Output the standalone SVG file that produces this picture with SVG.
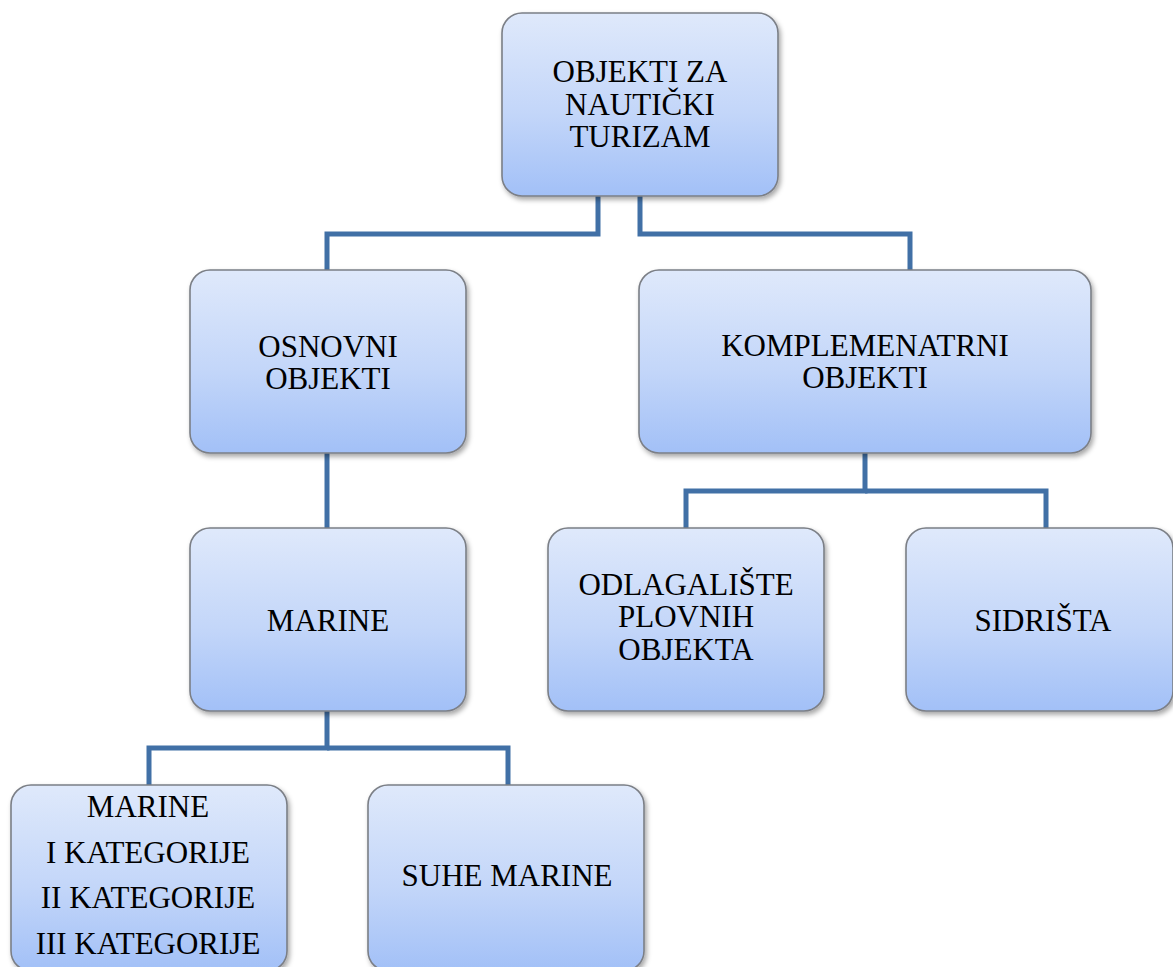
<svg xmlns="http://www.w3.org/2000/svg" width="1173" height="967" viewBox="0 0 1173 967">
<defs>
<linearGradient id="g" x1="0" y1="0" x2="0" y2="1">
<stop offset="0" stop-color="#dfe9fb"/>
<stop offset="0.55" stop-color="#c3d6f9"/>
<stop offset="1" stop-color="#a2c0f7"/>
</linearGradient>
<filter id="sh" x="-10%" y="-10%" width="125%" height="130%">
<feDropShadow dx="2" dy="3" stdDeviation="2.5" flood-color="#000" flood-opacity="0.35"/>
</filter>
</defs>
<style>
.box{fill:url(#g);stroke:#7b7f86;stroke-width:1.6;filter:url(#sh)}
.t{font-family:'Liberation Serif','Times New Roman',serif;font-size:31px;fill:#000;text-anchor:middle}
.c{fill:none;stroke:#4170a6;stroke-width:5;stroke-linejoin:miter}
</style>
<rect width="1173" height="967" fill="#fff"/>
<g id="connectors">
<path class="c" d="M598,196 V234 H327 V270"/>
<path class="c" d="M640,196 V234 H910 V270"/>
<path class="c" d="M327,453 V528"/>
<path class="c" d="M865,453 V491 H686 V528"/>
<path class="c" d="M865,491 H1046 V528"/>
<path class="c" d="M327,711 V748 H149 V785"/>
<path class="c" d="M327,748 H508 V785"/>
</g>
<g id="n-root">
<rect class="box" x="502" y="13" width="276" height="183" rx="20"/>
<text class="t" x="640" y="82">OBJEKTI ZA</text>
<text class="t" x="640" y="114.5">NAUTIČKI</text>
<text class="t" x="640" y="147">TURIZAM</text>
</g>
<g id="n-osnovni">
<rect class="box" x="190" y="270" width="276" height="183" rx="20"/>
<text class="t" x="328" y="357">OSNOVNI</text>
<text class="t" x="328" y="389">OBJEKTI</text>
</g>
<g id="n-kompl">
<rect class="box" x="639" y="270" width="452" height="183" rx="20"/>
<text class="t" x="865" y="356">KOMPLEMENATRNI</text>
<text class="t" x="865" y="388">OBJEKTI</text>
</g>
<g id="n-marine">
<rect class="box" x="190" y="528" width="276" height="183" rx="20"/>
<text class="t" x="328" y="631">MARINE</text>
</g>
<g id="n-odlag">
<rect class="box" x="548" y="528" width="276" height="183" rx="20"/>
<text class="t" x="686" y="595">ODLAGALIŠTE</text>
<text class="t" x="686" y="627">PLOVNIH</text>
<text class="t" x="686" y="660">OBJEKTA</text>
</g>
<g id="n-sidr">
<rect class="box" x="906" y="528" width="267" height="183" rx="20"/>
<text class="t" x="1043" y="631">SIDRIŠTA</text>
</g>
<g id="n-marine-kat">
<rect class="box" x="11" y="785" width="276" height="186" rx="20"/>
<text class="t" x="148" y="817">MARINE</text>
<text class="t" x="148" y="863">I KATEGORIJE</text>
<text class="t" x="148" y="908">II KATEGORIJE</text>
<text class="t" x="148" y="954">III KATEGORIJE</text>
</g>
<g id="n-suhe">
<rect class="box" x="368" y="785" width="276" height="186" rx="20"/>
<text class="t" x="507" y="886">SUHE MARINE</text>
</g>
</svg>
